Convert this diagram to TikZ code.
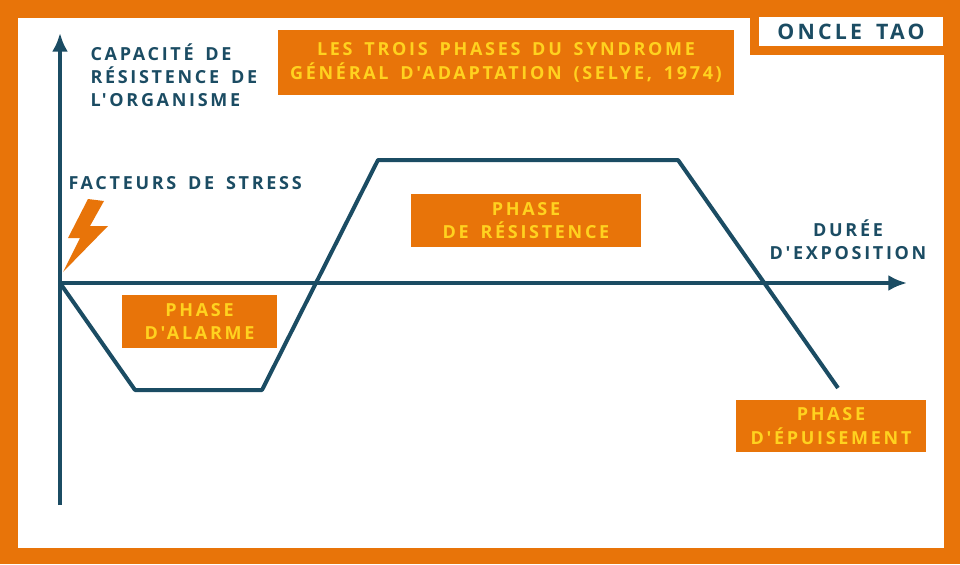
\documentclass[tikz,border=0pt]{standalone}
\usepackage{fontspec}
\usetikzlibrary{arrows.meta}
\newfontfamily\labfont[LetterSpace=15,WordSpace=1.6]{Open Sans}
\definecolor{tao}{HTML}{E87409}
\definecolor{ink}{HTML}{1B4C63}
\definecolor{gold}{HTML}{FFD21F}
\tikzset{every picture/.style={line width=0.75pt}}
\tikzset{phasebox/.style={fill=tao,text=gold,font=\labfont\bfseries\fontsize{13.5}{17.5}\selectfont,align=center,inner sep=0pt},
  inklabel/.style={text=ink,font=\labfont\bfseries\fontsize{13.5}{17.5}\selectfont,align=left,inner sep=0pt}}

\begin{document}
\begin{tikzpicture}[x=0.75pt,y=0.75pt,yscale=-1,xscale=1]
\useasboundingbox (0,0) rectangle (960,564);
%Background
\fill[tao] (0,0) rectangle (960,564);
\fill[white] (18,18) rectangle (944,548);
%Logo
\fill[tao] (750,0) rectangle (960,55);
\fill[white] (759,17) rectangle (943,46);
\draw (851,31.5) node [inklabel,font=\labfont\bfseries\fontsize{16}{18}\selectfont]  {ONCLE TAO};

%Axes
\draw [ink,line width=3pt,-{Latex[length=14pt,width=12pt]}]  (60,505) -- (60,33) ;
\draw [ink,line width=3pt,-{Latex[length=14pt,width=12pt]}]  (58,283) -- (907,283) ;
%Curve
\draw [ink,line width=3pt,line join=round]  (60,283) -- (135,390) -- (262,390) -- (378,160) -- (678,160) -- (838,388) ;
%Lightning
\fill [tao] (88,199) -- (104,201) -- (90,226) -- (108,226) -- (63,272) -- (80,238) -- (68,238) -- cycle;

%Boxes
\fill [tao] (278,30) rectangle (734,95);
\draw (506,62.5) node [phasebox]  {LES TROIS PHASES DU SYNDROME\\GÉNÉRAL D'ADAPTATION (SELYE, 1974)};
\fill [tao] (122,295) rectangle (277,348);
\draw (199.5,321.5) node [phasebox]  {PHASE\\D'ALARME};
\fill [tao] (411,194) rectangle (641,247);
\draw (526,220.5) node [phasebox]  {PHASE\\DE RÉSISTENCE};
\fill [tao] (736,400) rectangle (926,452);
\draw (831,426) node [phasebox]  {PHASE\\D'ÉPUISEMENT};

%Labels
\draw (90,43) node [inklabel,anchor=north west]  {CAPACITÉ DE\\RÉSISTENCE DE\\L'ORGANISME};
\draw (68,183) node [inklabel,anchor=west]  {FACTEURS DE STRESS};
\draw (848,240) node [inklabel,align=center]  {DURÉE\\D'EXPOSITION};
\end{tikzpicture}
\end{document}
